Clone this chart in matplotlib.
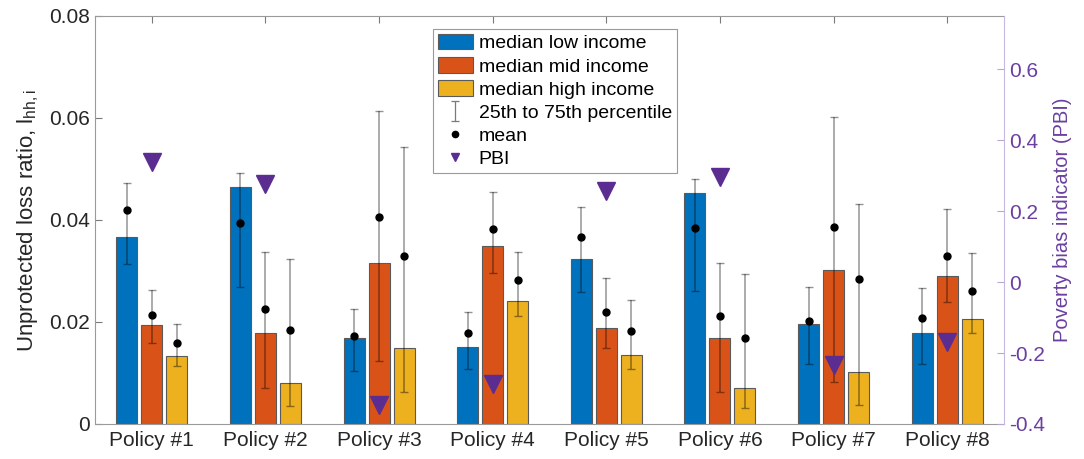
import numpy as np
import matplotlib
matplotlib.use("Agg")
import matplotlib.pyplot as plt
from matplotlib.patches import Patch
from matplotlib.lines import Line2D
from matplotlib.path import Path

plt.rcParams['font.family'] = ['Liberation Sans', 'DejaVu Sans']
plt.rcParams['mathtext.fontset'] = 'custom'
plt.rcParams['mathtext.rm'] = 'Liberation Sans'

policies = ['Policy #1', 'Policy #2', 'Policy #3', 'Policy #4',
            'Policy #5', 'Policy #6', 'Policy #7', 'Policy #8']

# medianas por grupo de renda
med_low = [0.0367, 0.0465, 0.0169, 0.0150, 0.0324, 0.0452, 0.0197, 0.0178]
med_mid = [0.0194, 0.0179, 0.0316, 0.0349, 0.0189, 0.0168, 0.0301, 0.0290]
med_high = [0.0133, 0.0081, 0.0148, 0.0242, 0.0135, 0.0071, 0.0101, 0.0205]

# percentis 25 e 75
p25_low = [0.0314, 0.0269, 0.0103, 0.0107, 0.0258, 0.0261, 0.0117, 0.0118]
p75_low = [0.0473, 0.0492, 0.0226, 0.0220, 0.0425, 0.0481, 0.0269, 0.0266]
p25_mid = [0.0159, 0.0070, 0.0124, 0.0297, 0.0148, 0.0062, 0.0082, 0.0239]
p75_mid = [0.0263, 0.0337, 0.0614, 0.0454, 0.0286, 0.0315, 0.0602, 0.0421]
p25_high = [0.0114, 0.0035, 0.0063, 0.0212, 0.0108, 0.0031, 0.0037, 0.0178]
p75_high = [0.0196, 0.0323, 0.0544, 0.0337, 0.0243, 0.0294, 0.0431, 0.0335]

# médias
mean_low = [0.0420, 0.0394, 0.0173, 0.0178, 0.0367, 0.0384, 0.0202, 0.0207]
mean_mid = [0.0214, 0.0225, 0.0405, 0.0382, 0.0219, 0.0211, 0.0386, 0.0330]
mean_high = [0.0159, 0.0184, 0.0330, 0.0282, 0.0183, 0.0169, 0.0284, 0.0260]

# indicador de viés de pobreza
pbi = [0.338, 0.275, -0.346, -0.287, 0.256, 0.296, -0.234, -0.169]

c_low = '#0072BD'
c_mid = '#D95319'
c_high = '#EDB120'
c_pbi = '#5C2D91'
c_pbi_txt = '#6A3FA0'

fig = plt.figure(figsize=(10.84, 4.59), dpi=100)
ax = fig.add_axes([0.0876, 0.0763, 0.8386, 0.8889])

x = np.arange(1, len(policies) + 1)
largura = 0.185
desloc = 0.22

grupos = [
    (med_low, p25_low, p75_low, mean_low, c_low, -desloc),
    (med_mid, p25_mid, p75_mid, mean_mid, c_mid, 0.0),
    (med_high, p25_high, p75_high, mean_high, c_high, desloc),
]
for med, p25, p75, media, cor, dx in grupos:
    med = np.array(med)
    ax.bar(x + dx, med, width=largura, color=cor, edgecolor='#5a5a5a',
           linewidth=0.8, zorder=2)
    ax.errorbar(x + dx, med, yerr=[med - np.array(p25), np.array(p75) - med],
                fmt='none', ecolor='black', alpha=0.42, elinewidth=1.1,
                capsize=3, capthick=1.0, zorder=3)
    ax.plot(x + dx, media, 'o', color='black', markersize=5, zorder=4)

ax.set_xlim(0.5, 8.5)
ax.set_ylim(0, 0.08)
ax.set_yticks([0, 0.02, 0.04, 0.06, 0.08])
ax.set_yticklabels(['0', '0.02', '0.04', '0.06', '0.08'])
ax.set_xticks(x)
ax.set_xticklabels(policies)
ax.tick_params(axis='both', direction='in', labelsize=15, colors='#262626',
               length=5, width=0.8, top=True)
ax.tick_params(axis='x', pad=5)
ax.tick_params(axis='both', color='#7a7a7a')
for lado in ['left', 'bottom', 'top']:
    ax.spines[lado].set_color('#9a9a9a')
ax.spines['right'].set_visible(False)
ax.set_ylabel(r'Unprotected loss ratio, $\mathrm{l}_{\mathrm{hh,i}}$',
              fontsize=16, color='#262626', labelpad=6)

# eixo secundário com o PBI
ax2 = ax.twinx()
ax2.plot(x, pbi, 'v', color=c_pbi, markersize=12.5, zorder=5)
ax2.set_ylim(-0.4, 0.75)
ax2.set_yticks([-0.4, -0.2, 0, 0.2, 0.4, 0.6])
ax2.set_yticklabels(['-0.4', '-0.2', '0', '0.2', '0.4', '0.6'])
ax2.tick_params(axis='y', direction='in', labelsize=15, colors=c_pbi_txt,
                length=5, width=0.8)
ax2.tick_params(axis='y', color='#b9a6d6')
for lado in ['left', 'bottom', 'top']:
    ax2.spines[lado].set_visible(False)
ax2.spines['right'].set_color('#c7b8e0')
ax2.set_ylabel('Poverty bias indicator (PBI)', fontsize=14.5,
               color=c_pbi_txt, labelpad=6)

# símbolo "I" da barra de erro na legenda
marca_erro = Path([(-0.4, 1), (0.4, 1), (0, 1), (0, -1), (-0.4, -1), (0.4, -1)],
                  [Path.MOVETO, Path.LINETO, Path.MOVETO, Path.LINETO,
                   Path.MOVETO, Path.LINETO])

handles = [
    Patch(facecolor=c_low, edgecolor='#5a5a5a', linewidth=0.8),
    Patch(facecolor=c_mid, edgecolor='#5a5a5a', linewidth=0.8),
    Patch(facecolor=c_high, edgecolor='#5a5a5a', linewidth=0.8),
    Line2D([], [], color='#7a7a7a', marker=marca_erro, linestyle='none',
           markersize=14, markeredgewidth=0.9, fillstyle='none'),
    Line2D([], [], color='black', marker='o', linestyle='none', markersize=4.5),
    Line2D([], [], color=c_pbi, marker='v', linestyle='none', markersize=5.5),
]
labels = ['median low income', 'median mid income', 'median high income',
          '25th to 75th percentile', 'mean', 'PBI']
leg = ax.legend(handles, labels, loc='upper left',
                bbox_to_anchor=(0.372, 0.968), fontsize=14, frameon=True,
                fancybox=False, edgecolor='#9a9a9a', framealpha=1,
                handlelength=1.8, handleheight=0.85, labelspacing=0.24,
                borderpad=0.25, handletextpad=0.3, borderaxespad=0)
leg.get_frame().set_linewidth(0.8)
leg.set_zorder(10)

fig.savefig('out.png', dpi=100)
